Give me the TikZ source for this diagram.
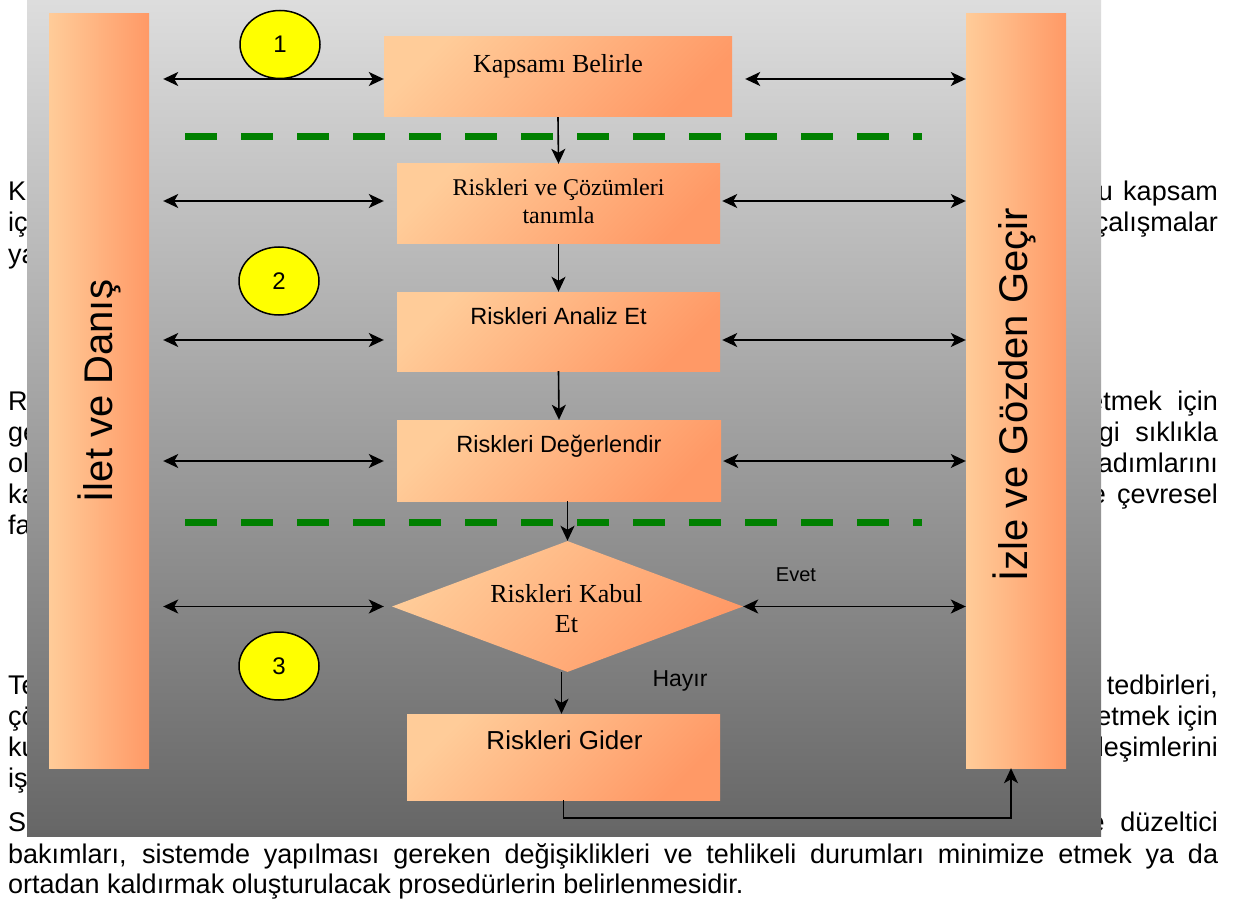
\documentclass[tikz,border=0pt]{standalone}
\usepackage{fontspec}
\setmainfont{Liberation Sans}
\newfontfamily\serifface{Liberation Serif}
\usetikzlibrary{arrows.meta,shapes.geometric,calc}
\definecolor{peach}{RGB}{255,204,153}
\definecolor{orng}{RGB}{255,153,102}
\definecolor{panetop}{RGB}{221,221,221}
\definecolor{panebot}{RGB}{102,102,102}
\definecolor{dgreen}{RGB}{0,128,0}
\definecolor{yel}{RGB}{255,255,0}
\newcommand\fs[2]{\fontsize{#1}{#2}\selectfont}
\begin{document}
\begin{tikzpicture}[x=1pt,y=-1pt,
 body/.style={font=\fs{27}{31}, inner sep=0pt},
 lfrag/.style={body, anchor=base west},
 rfrag/.style={body, anchor=base east},
 bar/.style={left color=peach, right color=orng, minimum width=100pt, minimum height=754pt, inner sep=0pt},
 bartext/.style={rotate=90, font=\fs{40}{46}, inner sep=0pt},
 box/.style={left color=peach, right color=orng, shading angle=45, inner sep=0pt},
 stext/.style={font=\serifface\fs{26}{30}, anchor=base, inner sep=0pt},
 atext/.style={font=\fs{23.5}{28}, anchor=base, inner sep=0pt},
 num/.style={ellipse, draw=black, line width=1.5pt, fill=yel, minimum width=80pt, minimum height=68pt, inner sep=0pt, font=\fs{24}{28}},
 arr/.style={-{Stealth[length=15pt,width=14pt,inset=4pt]}, line width=1.6pt},
 dbl/.style={{Stealth[length=15pt,width=14pt,inset=4pt]}-{Stealth[length=15pt,width=14pt,inset=4pt]}, line width=1.7pt},
 gdash/.style={dgreen, line width=7pt, dash pattern=on 32pt off 24pt},
 lab/.style={anchor=base, inner sep=0pt}
]
\useasboundingbox (0,0) rectangle (1237,904);
\fill[white] (0,0) rectangle (1237,904);

% background paragraph text (mostly hidden by the panel)
\node[lfrag] (l1) at (8,201) {K};
\node[lfrag] (l2) at (8,232) {iç};
\node[lfrag] (l3) at (8,263) {ya};
\node[lfrag] (l4) at (8,410) {R};
\node[lfrag] (l5) at (8,441) {ge};
\node[lfrag] (l6) at (8,472) {ol};
\node[lfrag] (l7) at (8,503) {ka};
\node[lfrag] (l8) at (8,534) {fa};
\node[lfrag] (l9) at (8,694) {Te};
\node[lfrag] (l10) at (8,725) {çö};
\node[lfrag] (l11) at (8,756) {ku};
\node[lfrag] (l12) at (8,787) {iş};
\node[lfrag] (l13) at (8,831) {S};

\node[rfrag] (r1) at (1218,201) {bu\hspace{3pt} kapsam};
\node[rfrag] (r2) at (1218,232) {çalışmalar};
\node[rfrag] (r4) at (1218,410) {etmek\hspace{8pt} için};
\node[rfrag] (r5) at (1218,441) {gi\hspace{8pt} sıklıkla};
\node[rfrag] (r6) at (1218,472) {adımlarını};
\node[rfrag] (r7) at (1218,503) {ve\hspace{4pt} çevresel};
\node[rfrag] (r9) at (1218,694) {tedbirleri,};
\node[rfrag] (r10) at (1218,725) {etmek için};
\node[rfrag] (r11) at (1218,756) {etkileşimlerini};
\node[rfrag] (r13) at (1218,831) {ve\hspace{8pt} düzeltici};

\node[lfrag] (b1) at (8,863) {\makebox[1210pt][s]{bakımları, sistemde yapılması gereken değişiklikleri ve tehlikeli durumları minimize etmek ya da}};
\node[lfrag] (b2) at (8,893) {ortadan kaldırmak oluşturulacak prosedürlerin belirlenmesidir.};

% gray panel
\fill[top color=panetop, bottom color=panebot] (27,1) rectangle (1101,836);

% side bars
\node[bar] (lbar) at (99,391) {};
\node[bar] (rbar) at (1016,391) {};
\node[bartext] (lbart) at (lbar.center) {İlet ve Danış};
\node[bartext] (rbart) at ($(rbar.center)+(-2,4)$) {İzle ve Gözden Geçir};

% flow boxes
\node[box, minimum width=348pt, minimum height=80pt] (kap) at (558,77) {};
\node[stext] (kapt) at ($(kap.center)+(0,-4)$) {Kapsamı Belirle};

\node[box, minimum width=323pt, minimum height=80pt] (rc) at (558.5,204) {};
\node[stext, font=\serifface\fs{24}{28}] (rct1) at ($(rc.center)+(0,-8)$) {Riskleri ve Çözümleri};
\node[stext, font=\serifface\fs{24}{28}] (rct2) at ($(rc.center)+(0,20)$) {tanımla};

\node[box, minimum width=323pt, minimum height=79pt] (ana) at (558.5,331.5) {};
\node[atext] (anat) at ($(ana.center)+(0,-7.5)$) {Riskleri Analiz Et};

\node[box, minimum width=324pt, minimum height=81pt] (deg) at (559,460.5) {};
\node[atext] (degt) at ($(deg.center)+(0,-8.5)$) {Riskleri Değerlendir};

\node[box, diamond, minimum width=351pt, minimum height=131pt] (dia) at (567.5,606.5) {};
\node[stext] (diat1) at ($(dia.center)+(-1,-4.5)$) {Riskleri Kabul};
\node[stext] (diat2) at ($(dia.center)+(-1,25.5)$) {Et};

\node[box, minimum width=313pt, minimum height=86pt] (gid) at (563.5,757) {};
\node[atext, font=\fs{26}{30}] (gidt) at ($(gid.center)+(1,-8)$) {Riskleri Gider};

% dashed separators
\coordinate (g1a) at (185,137);
\coordinate (g1b) at (922,137);
\coordinate (g2a) at (185,522);
\coordinate (g2b) at (922,522);
\draw[gdash] (g1a) -- (g1b);
\draw[gdash] (g2a) -- (g2b);

% vertical flow arrows
\draw[arr] (kap.south) -- (rc.north);
\draw[arr] (rc.south) -- (ana.north);
\draw[arr] (ana.south) -- (deg.north);
\draw[arr] (deg.south -| dia.north) -- (dia.north);
\draw[arr] ($(dia.south)+(-6,0)$) -- ($(dia.south |- gid.north)+(-6,0)$);
\draw[arr] (gid.south) -- ++(0,18) -| ($(rbar.south)+(-5,0)$);

% two-way arrows to the side bars
\draw[dbl] ($(lbar.east |- kap.west)+(14,2)$) -- ($(kap.west)+(0,2)$);
\draw[dbl] ($(kap.east)+(13,2)$) -- ($(rbar.west |- kap.east)+(0,2)$);
\draw[dbl] ($(lbar.east |- rc.west)+(14,-3)$) -- ($(rc.west)+(-13,-3)$);
\draw[dbl] ($(rc.east)+(2,-3)$) -- ($(rbar.west |- rc.east)+(0,-3)$);
\draw[dbl] ($(lbar.east |- ana.west)+(14,8.5)$) -- ($(ana.west)+(-13,8.5)$);
\draw[dbl] ($(ana.east)+(2,8.5)$) -- ($(rbar.west |- ana.east)+(0,8.5)$);
\draw[dbl] ($(lbar.east |- deg.west)+(14,0.5)$) -- ($(deg.west)+(-13,0.5)$);
\draw[dbl] ($(deg.east)+(2,0.5)$) -- ($(rbar.west |- deg.east)+(0,0.5)$);
\draw[dbl] ($(lbar.east |- dia.west)+(14,0)$) -- ($(dia.west)+(-8,0)$);
\draw[dbl] (dia.east) -- (rbar.west |- dia.east);

% numbered markers
\node[num] (n1) at (280,44.5) {1};
\node[num] (n2) at (279,281) {2};
\node[num] (n3) at (279,666) {3};

% branch labels
\node[lab, font=\fs{20}{24}] (evet) at (796,581) {Evet};
\node[lab, font=\fs{23}{27}] (hayir) at (680,686) {Hayır};
\end{tikzpicture}
\end{document}
